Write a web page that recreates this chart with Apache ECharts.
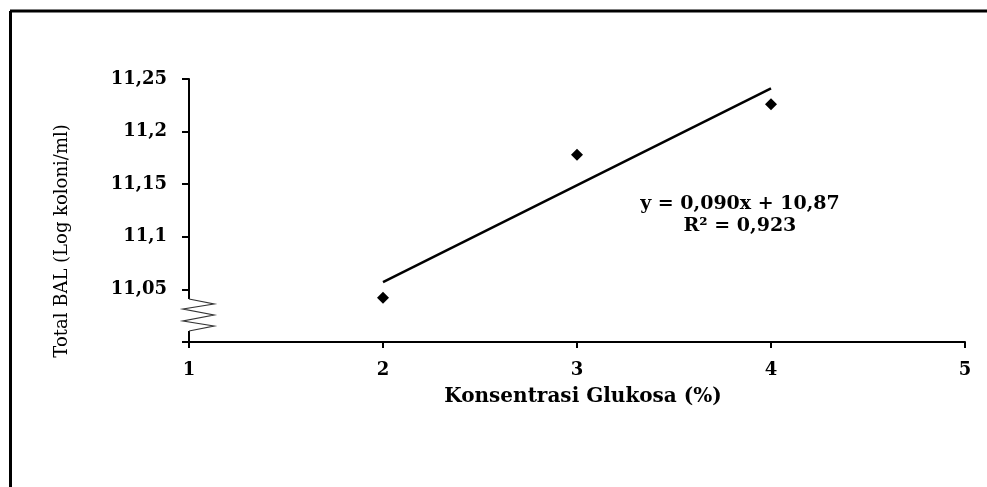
<!DOCTYPE html>
<html>
<head>
<meta charset="utf-8">
<script src="https://cdn.jsdelivr.net/npm/echarts@6/dist/echarts.min.js"></script>
<style>html,body{margin:0;padding:0;background:#fff}#c{width:987px;height:487px}</style>
</head>
<body>
<div id="c"></div>
<script>
var xValues = [2, 3, 4];
var yValues = [11.042, 11.178, 11.226];
var trendX = [2, 4];
var trendY = [11.057, 11.241];
var xTicks = [1, 2, 3, 4, 5];
var yTicks = [11.0, 11.05, 11.1, 11.15, 11.2, 11.25];
var xTitle = 'Konsentrasi Glukosa (%)';
var yTitle = 'Total BAL (Log koloni/ml)';
var eqLine1 = 'y = 0,090x + 10,87';
var eqLine2 = 'R\u00B2 = 0,923';

var FONT = '"DejaVu Serif", "Liberation Serif", serif';
var chart = echarts.init(document.getElementById('c'), null, {renderer: 'canvas'});

var points = xValues.map(function (x, i) { return [x, yValues[i]]; });
var trend = trendX.map(function (x, i) { return [x, trendY[i]]; });

chart.setOption({
  animation: false,
  backgroundColor: '#fff',
  grid: {left: 189, right: 22, top: 79, bottom: 145, containLabel: false},
  xAxis: {
    type: 'value', min: xTicks[0], max: xTicks[xTicks.length - 1], interval: 1,
    axisLine: {lineStyle: {color: '#000', width: 2}},
    axisTick: {show: true, length: 6, lineStyle: {color: '#000', width: 2}},
    splitLine: {show: false},
    axisLabel: {color: '#000', fontFamily: FONT, fontWeight: 'bold', fontSize: 18, margin: 19}
  },
  yAxis: {
    type: 'value', min: yTicks[0], max: yTicks[yTicks.length - 1], interval: 0.05,
    axisLine: {show: true, lineStyle: {color: '#000', width: 2}},
    axisTick: {show: true, length: 7, lineStyle: {color: '#000', width: 2}},
    splitLine: {show: false},
    axisLabel: {
      color: '#000', fontFamily: FONT, fontWeight: 'bold', fontSize: 18, margin: 22,
      formatter: function (v) {
        var r = Math.round(v * 100) / 100;
        if (r === yTicks[0]) return '';
        return String(r).replace('.', ',');
      }
    }
  },
  series: [
    {
      type: 'line', data: trend, symbol: 'none',
      lineStyle: {color: '#000', width: 2.5}, z: 3
    },
    {
      type: 'scatter', data: points, symbol: 'diamond', symbolSize: 12,
      itemStyle: {color: '#000', opacity: 1}, z: 4
    }
  ]
});

function px(x, y) { return chart.convertToPixel({gridIndex: 0}, [x, y]); }

var ax = px(xTicks[0], yTicks[0]);
var axisX = ax[0];
var axisBottom = ax[1];
var gapTop = axisBottom - 43;
var gapBot = axisBottom - 11;
var eq = px(3.84, 11.131);
var eq2 = px(3.84, 11.110);

chart.setOption({
  graphic: [
    {type: 'line', shape: {x1: 10, y1: 11, x2: 987, y2: 11}, style: {stroke: '#000', lineWidth: 3}},
    {type: 'line', shape: {x1: 10.5, y1: 11, x2: 10.5, y2: 487}, style: {stroke: '#000', lineWidth: 3}},
    {type: 'rect', shape: {x: axisX - 3, y: gapTop, width: 6, height: gapBot - gapTop}, style: {fill: '#fff'}, z: 100},
    {type: 'polyline', z: 101, shape: {points: [
      [axisX, gapTop], [axisX + 25, gapTop + 5], [axisX - 6, gapTop + 10], [axisX + 25, gapTop + 16],
      [axisX - 6, gapTop + 22], [axisX + 25, gapTop + 27], [axisX, gapTop + 32]
    ]}, style: {stroke: '#333', lineWidth: 1.2, fill: null}},
    {type: 'text', x: eq[0], y: eq[1], style: {text: eqLine1, fill: '#000', font: 'bold 19px ' + FONT, textAlign: 'center', textVerticalAlign: 'middle'}},
    {type: 'text', x: eq2[0], y: eq2[1], style: {text: eqLine2, fill: '#000', font: 'bold 19px ' + FONT, textAlign: 'center', textVerticalAlign: 'middle'}},
    {type: 'text', x: 583, y: 397, style: {text: xTitle, fill: '#000', font: 'bold 20px ' + FONT, textAlign: 'center', textVerticalAlign: 'middle'}},
    {type: 'text', x: 62, y: 241, rotation: Math.PI / 2, style: {text: yTitle, fill: '#000', font: '18px ' + FONT, textAlign: 'center', textVerticalAlign: 'middle'}}
  ]
});
</script>
</body>
</html>
